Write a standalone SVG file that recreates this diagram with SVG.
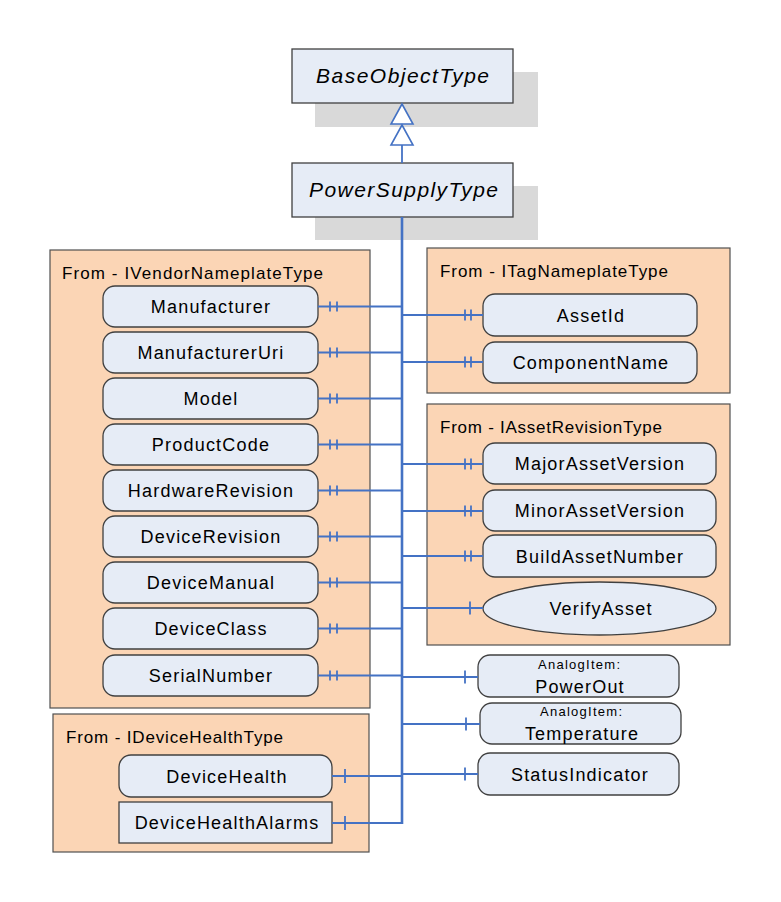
<svg xmlns="http://www.w3.org/2000/svg" width="781" height="902" viewBox="0 0 781 902">
<style>
.grp{fill:#FBD5B5;stroke:#505050;stroke-width:1.2}
.node{fill:#E6ECF6;stroke:#404040;stroke-width:1.3}
.shadow{fill:#D9D9D9}
.lbl{font-family:"Liberation Sans",Arial,sans-serif;font-size:18px;letter-spacing:1.2px;text-anchor:middle;fill:#000}
.small{font-family:"Liberation Sans",Arial,sans-serif;font-size:13px;text-anchor:middle;fill:#000}
.ttl{font-family:"Liberation Sans",Arial,sans-serif;font-size:17px;fill:#000}
.it{font-family:"Liberation Sans",Arial,sans-serif;font-size:21px;font-style:italic;text-anchor:middle;fill:#000}
.con line,.con path{stroke:#4472C4;stroke-width:1.8;fill:none}
.con .main{stroke-width:2.6}
.con .tri{fill:#fff;stroke-width:1.6}
</style>
<rect width="781" height="902" fill="#fff"/>

<g id="BaseObjectType">
<rect class="shadow" x="315" y="72" width="223" height="55"/>
<rect class="node" x="292" y="49" width="221" height="54"/>
<text class="it" x="402.5" y="83" textLength="173">BaseObjectType</text>
</g>
<g id="PowerSupplyType">
<rect class="shadow" x="315" y="186" width="223" height="54"/>
<rect class="node" x="292" y="163" width="221" height="54"/>
<text class="it" x="403.5" y="197" textLength="189">PowerSupplyType</text>
</g>

<g id="IVendorNameplateType">
<rect class="grp" x="50" y="250" width="320" height="458"/>
<text class="ttl" x="62" y="279" textLength="261">From - IVendorNameplateType</text>
</g>
<g id="ITagNameplateType">
<rect class="grp" x="427" y="248" width="303" height="145"/>
<text class="ttl" x="440" y="277" textLength="228">From - ITagNameplateType</text>
</g>
<g id="IAssetRevisionType">
<rect class="grp" x="427" y="404" width="303" height="241"/>
<text class="ttl" x="440" y="433" textLength="222">From - IAssetRevisionType</text>
</g>
<g id="IDeviceHealthType">
<rect class="grp" x="53" y="714" width="316" height="138"/>
<text class="ttl" x="66" y="743" textLength="217">From - IDeviceHealthType</text>
</g>

<g id="Manufacturer"><rect class="node" x="103" y="286" width="215" height="41" rx="12"/><text class="lbl" x="211" y="313">Manufacturer</text></g>
<g id="ManufacturerUri"><rect class="node" x="103" y="332" width="215" height="41" rx="12"/><text class="lbl" x="211" y="359">ManufacturerUri</text></g>
<g id="Model"><rect class="node" x="103" y="378" width="215" height="41" rx="12"/><text class="lbl" x="211" y="405">Model</text></g>
<g id="ProductCode"><rect class="node" x="103" y="424" width="215" height="41" rx="12"/><text class="lbl" x="211" y="451">ProductCode</text></g>
<g id="HardwareRevision"><rect class="node" x="103" y="470" width="215" height="41" rx="12"/><text class="lbl" x="211" y="497">HardwareRevision</text></g>
<g id="DeviceRevision"><rect class="node" x="103" y="516" width="215" height="41" rx="12"/><text class="lbl" x="211" y="543">DeviceRevision</text></g>
<g id="DeviceManual"><rect class="node" x="103" y="562" width="215" height="41" rx="12"/><text class="lbl" x="211" y="589">DeviceManual</text></g>
<g id="DeviceClass"><rect class="node" x="103" y="608" width="215" height="41" rx="12"/><text class="lbl" x="211" y="635">DeviceClass</text></g>
<g id="SerialNumber"><rect class="node" x="103" y="655" width="215" height="41" rx="12"/><text class="lbl" x="211" y="682">SerialNumber</text></g>

<g id="AssetId"><rect class="node" x="483" y="294" width="214" height="42" rx="12"/><text class="lbl" x="591" y="321.5">AssetId</text></g>
<g id="ComponentName"><rect class="node" x="483" y="342" width="214" height="41" rx="12"/><text class="lbl" x="591" y="369">ComponentName</text></g>
<g id="MajorAssetVersion"><rect class="node" x="483" y="443" width="233" height="41" rx="12"/><text class="lbl" x="600" y="470">MajorAssetVersion</text></g>
<g id="MinorAssetVersion"><rect class="node" x="483" y="490" width="233" height="41" rx="12"/><text class="lbl" x="600" y="517">MinorAssetVersion</text></g>
<g id="BuildAssetNumber"><rect class="node" x="483" y="535" width="233" height="42" rx="12"/><text class="lbl" x="600" y="562.5">BuildAssetNumber</text></g>
<g id="VerifyAsset"><ellipse class="node" cx="599.5" cy="608.5" rx="116.5" ry="26.5"/><text class="lbl" x="601" y="615">VerifyAsset</text></g>

<g id="PowerOut"><rect class="node" x="478" y="655" width="201" height="42" rx="12"/><text class="small" x="579" y="669" textLength="82">AnalogItem:</text><text class="lbl" x="580" y="693">PowerOut</text></g>
<g id="Temperature"><rect class="node" x="480" y="703" width="201" height="41" rx="12"/><text class="small" x="581" y="716" textLength="82">AnalogItem:</text><text class="lbl" x="582" y="740">Temperature</text></g>
<g id="StatusIndicator"><rect class="node" x="478" y="753" width="201" height="42" rx="12"/><text class="lbl" x="580" y="780.5">StatusIndicator</text></g>

<g id="DeviceHealth"><rect class="node" x="119" y="755" width="213" height="42" rx="12"/><text class="lbl" x="227" y="782.5">DeviceHealth</text></g>
<g id="DeviceHealthAlarms"><rect class="node" x="119" y="802" width="213" height="41"/><text class="lbl" x="227" y="829">DeviceHealthAlarms</text></g>

<g id="connectors" class="con">
<line x1="402" y1="145" x2="402" y2="163"/>
<path class="tri" d="M402,104 L413,124 L391,124 Z"/>
<path class="tri" d="M402,125 L413,145 L391,145 Z"/>
<line class="main" x1="402" y1="217" x2="402" y2="824"/>

<line x1="318" y1="306.5" x2="402" y2="306.5"/><line x1="330" y1="301.5" x2="330" y2="311.5"/><line x1="337" y1="301.5" x2="337" y2="311.5"/>
<line x1="318" y1="352.5" x2="402" y2="352.5"/><line x1="330" y1="347.5" x2="330" y2="357.5"/><line x1="337" y1="347.5" x2="337" y2="357.5"/>
<line x1="318" y1="398.5" x2="402" y2="398.5"/><line x1="330" y1="393.5" x2="330" y2="403.5"/><line x1="337" y1="393.5" x2="337" y2="403.5"/>
<line x1="318" y1="444.5" x2="402" y2="444.5"/><line x1="330" y1="439.5" x2="330" y2="449.5"/><line x1="337" y1="439.5" x2="337" y2="449.5"/>
<line x1="318" y1="490.5" x2="402" y2="490.5"/><line x1="330" y1="485.5" x2="330" y2="495.5"/><line x1="337" y1="485.5" x2="337" y2="495.5"/>
<line x1="318" y1="536.5" x2="402" y2="536.5"/><line x1="330" y1="531.5" x2="330" y2="541.5"/><line x1="337" y1="531.5" x2="337" y2="541.5"/>
<line x1="318" y1="582.5" x2="402" y2="582.5"/><line x1="330" y1="577.5" x2="330" y2="587.5"/><line x1="337" y1="577.5" x2="337" y2="587.5"/>
<line x1="318" y1="628.5" x2="402" y2="628.5"/><line x1="330" y1="623.5" x2="330" y2="633.5"/><line x1="337" y1="623.5" x2="337" y2="633.5"/>
<line x1="318" y1="675.5" x2="402" y2="675.5"/><line x1="330" y1="670.5" x2="330" y2="680.5"/><line x1="337" y1="670.5" x2="337" y2="680.5"/>

<line x1="402" y1="315" x2="483" y2="315"/><line x1="465" y1="309.5" x2="465" y2="320.5"/><line x1="471" y1="309.5" x2="471" y2="320.5"/>
<line x1="402" y1="362" x2="483" y2="362"/><line x1="465" y1="356.5" x2="465" y2="367.5"/><line x1="471" y1="356.5" x2="471" y2="367.5"/>
<line x1="402" y1="464" x2="483" y2="464"/><line x1="465" y1="458.5" x2="465" y2="469.5"/><line x1="471" y1="458.5" x2="471" y2="469.5"/>
<line x1="402" y1="511" x2="483" y2="511"/><line x1="465" y1="505.5" x2="465" y2="516.5"/><line x1="471" y1="505.5" x2="471" y2="516.5"/>
<line x1="402" y1="556" x2="483" y2="556"/><line x1="465" y1="550.5" x2="465" y2="561.5"/><line x1="471" y1="550.5" x2="471" y2="561.5"/>
<line x1="402" y1="608" x2="483" y2="608"/><line x1="470" y1="601.5" x2="470" y2="614.5"/>

<line x1="402" y1="677" x2="478" y2="677"/><line x1="465" y1="670.5" x2="465" y2="683.5"/>
<line x1="402" y1="724" x2="480" y2="724"/><line x1="466" y1="717.5" x2="466" y2="730.5"/>
<line x1="402" y1="774" x2="478" y2="774"/><line x1="465" y1="767.5" x2="465" y2="780.5"/>

<line x1="332" y1="776" x2="402" y2="776"/><line x1="345" y1="769" x2="345" y2="783"/>
<line x1="332" y1="823" x2="402" y2="823"/><line x1="345" y1="816" x2="345" y2="830"/>
</g>
</svg>
